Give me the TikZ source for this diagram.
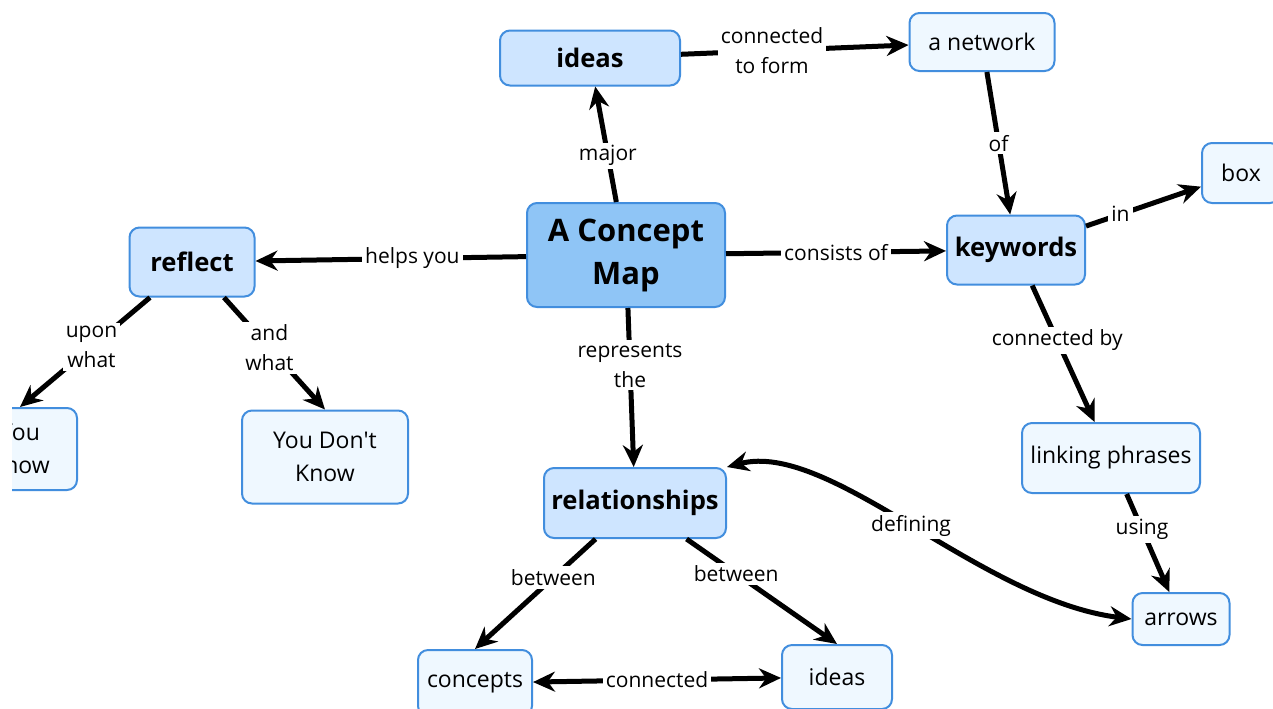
\documentclass[tikz,border=0pt]{standalone}
\usepackage{fontspec}
\setmainfont{Open Sans}
\usetikzlibrary{arrows.meta}

\definecolor{mapline}{RGB}{66,142,222}
\definecolor{mainfill}{RGB}{143,197,246}
\definecolor{keyfill}{RGB}{206,229,255}
\definecolor{plainfill}{RGB}{239,248,255}

\tikzset{
  concept/.style={draw=mapline, line width=1pt, rounded corners=5pt, align=center, inner sep=2pt},
  keynode/.style={concept, fill=keyfill, font=\fontsize{12.8}{15}\selectfont\bfseries},
  plainnode/.style={concept, fill=plainfill, font=\fontsize{11.5}{16.5}\selectfont},
  link/.style={line width=2.5pt, -{Stealth[length=11pt,width=10pt]}},
  twoway/.style={line width=2.5pt, {Stealth[length=11pt,width=10pt]}-{Stealth[length=11pt,width=10pt]}},
  lbl/.style={fill=white, inner sep=1.5pt, align=center, font=\fontsize{10.5}{15}\selectfont},
}

\begin{document}
\begin{tikzpicture}[x=0.5pt,y=-0.5pt]
    \useasboundingbox (0,0) rectangle (1273,708);
    \fill[white] (0,0) rectangle (1273,708);
    \clip (12,0) rectangle (1273,708);

    \node[concept, fill=mainfill, font=\fontsize{15.5}{21.5}\selectfont\bfseries,
          minimum width=99pt, minimum height=52pt] (cm) at (626,255) {A Concept\\Map};
    \node[keynode, minimum width=90pt, minimum height=27.5pt] (ideasT) at (590,58) {ideas};
    \node[plainnode, minimum width=72.5pt, minimum height=29pt] (network) at (982,42) {a network};
    \node[plainnode, minimum width=39pt, minimum height=30pt] (box) at (1241,173) {box};
    \node[keynode, minimum width=62.5pt, minimum height=34.5pt] (reflect) at (192,262) {reflect};
    \node[keynode, minimum width=69pt, minimum height=34.5pt] (keywords) at (1016,250) {keywords};
    \node[plainnode, minimum width=57pt, minimum height=41pt] (youknow) at (20,449) {You\\Know};
    \node[plainnode, minimum width=83pt, minimum height=46.5pt] (dontknow) at (325,457) {You Don\textquotesingle t\\Know};
    \node[plainnode, minimum width=89pt, minimum height=35pt] (linking) at (1111,458) {linking phrases};
    \node[keynode, minimum width=91pt, minimum height=35pt] (rel) at (635,503) {relationships};
    \node[plainnode, minimum width=48.5pt, minimum height=26pt] (arrowsN) at (1181,619) {arrows};
    \node[plainnode, minimum width=57pt, minimum height=33pt] (concepts) at (475,683) {concepts};
    \node[plainnode, minimum width=55pt, minimum height=32pt] (ideasB) at (837,677) {ideas};

    \draw[link] (cm) -- node[lbl, pos=0.4] {major} (ideasT);
    \draw[link] (ideasT) -- node[lbl, pos=0.4] {connected\\to form} (network);
    \draw[link] (network) -- node[lbl] {of} (keywords);
    \draw[link] (keywords) -- node[lbl, pos=0.3] {in} (box);
    \draw[link] (cm) -- node[lbl] {consists of} (keywords);
    \draw[link] (cm) -- node[lbl, pos=0.42] {helps you} (reflect);
    \draw[link] (reflect) -- node[lbl, pos=0.45] {upon\\what} (youknow.north);
    \draw[link] (reflect) -- node[lbl, pos=0.45] {and\\what} (dontknow.north);
    \draw[link] (cm) -- node[lbl, pos=0.36] {represents\\the} (rel);
    \draw[link] (keywords) -- node[lbl, pos=0.4] {connected by} (linking);
    \draw[link] (linking) -- node[lbl, pos=0.36] {using} (arrowsN);
    \draw[link] (rel) -- node[lbl, pos=0.35] {between} (concepts.north);
    \draw[link] (rel) -- node[lbl, pos=0.33] {between} (ideasB.north);
    \draw[twoway] (concepts) -- node[lbl] {connected} (ideasB);
    \draw[twoway] (rel.north east) .. controls (830,440) and (980,600) .. node[lbl] {defining} (arrowsN.west);
\end{tikzpicture}
\end{document}
